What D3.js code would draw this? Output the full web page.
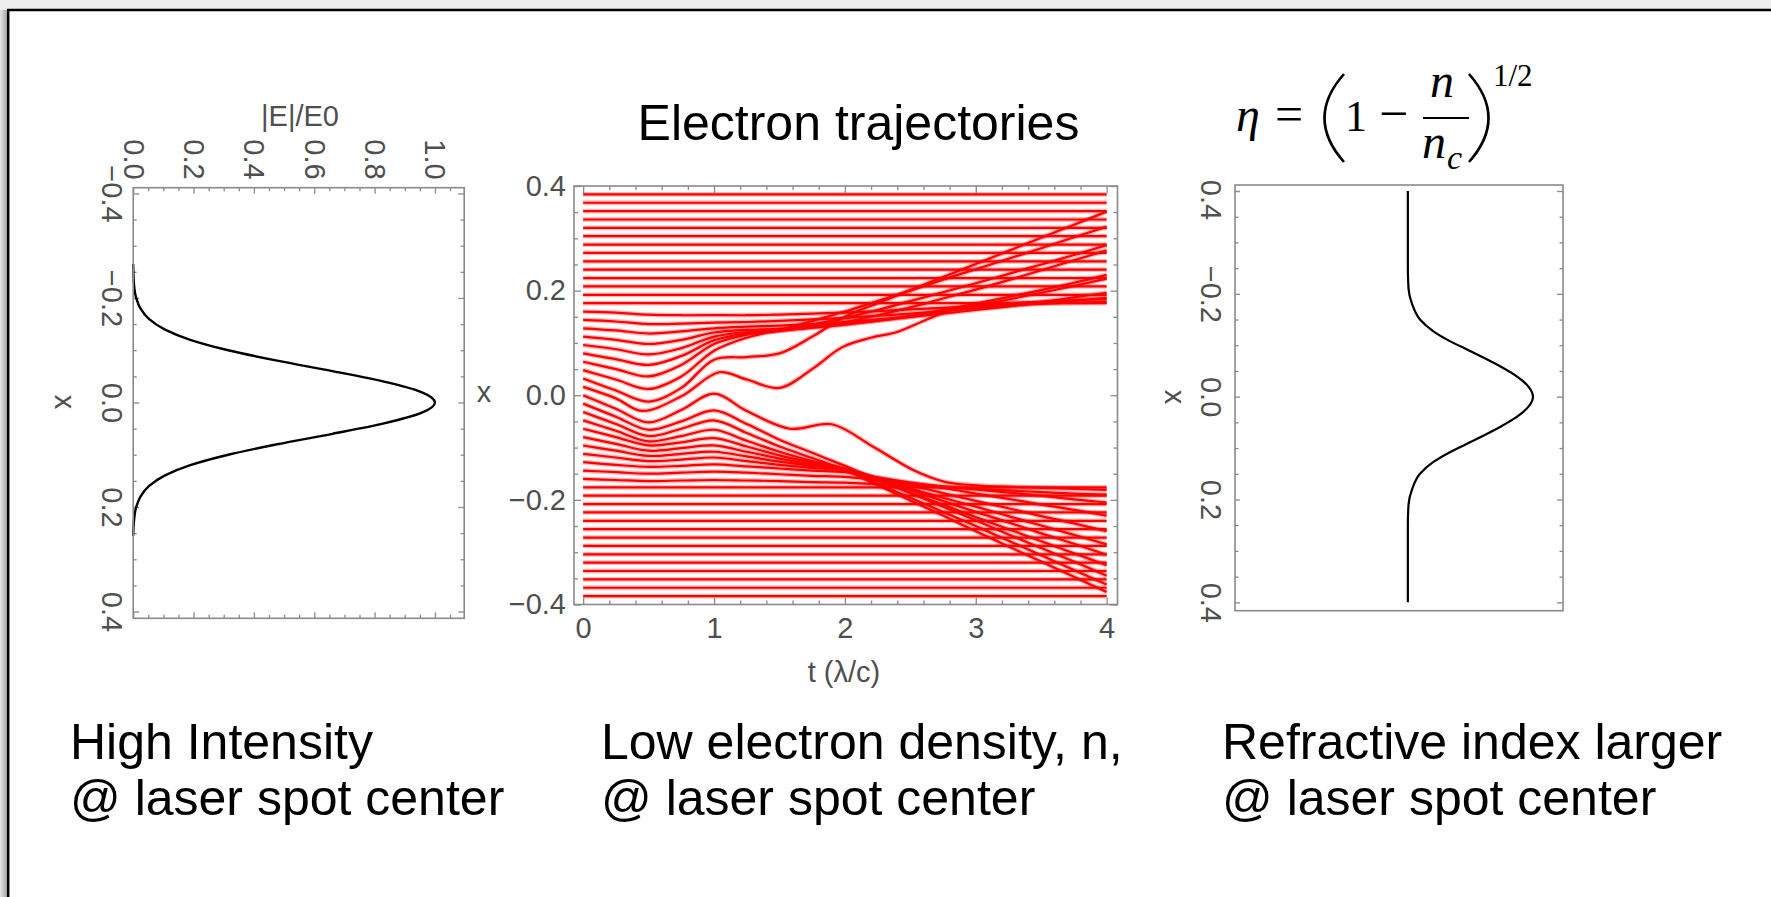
<!DOCTYPE html>
<html>
<head>
<meta charset="utf-8">
<script src="https://d3js.org/d3.v7.min.js"></script>
<style>
  html, body { margin: 0; padding: 0; background: #eeeeee; }
  svg text { font-family: "Liberation Sans", Arial, sans-serif; }
  .tick text, .lab { fill: #4f4f4f; font-size: 29px; }
  .tick line { stroke: #8a8a8a; stroke-width: 1.3; }
  .frame { fill: none; stroke: #8a8a8a; stroke-width: 1.6; }
  .note { fill: #000; font-size: 50px; }
  .math text { fill: #000; font-family: "Liberation Serif", "DejaVu Serif", serif; }
</style>
</head>
<body>
<script>
  // ---- values ----
  var eTicks = [0, 0.2, 0.4, 0.6, 0.8, 1.0];
  var posTicks = [-0.4, -0.2, 0, 0.2, 0.4];
  var timeTicks = [0, 1, 2, 3, 4];

  // left panel: |E|/E0 against x
  var fieldX = [-0.265, -0.23, -0.20, -0.18, -0.16, -0.14, -0.12, -0.10, -0.08, -0.06, -0.04, -0.02, 0,
                0.02, 0.04, 0.06, 0.08, 0.10, 0.12, 0.14, 0.16, 0.18, 0.20, 0.23, 0.255];
  var fieldE = [0.000, 0.002, 0.010, 0.024, 0.052, 0.104, 0.189, 0.315, 0.477, 0.660, 0.831, 0.955, 1.000,
                0.955, 0.831, 0.660, 0.477, 0.315, 0.189, 0.104, 0.052, 0.024, 0.010, 0.002, 0.000];

  // right panel: refractive index profile (no scale shown, 0..1 across the frame)
  var indexX = [-0.40, -0.30, -0.25, -0.21, -0.18, -0.15, -0.127, -0.108, -0.092, -0.076, -0.059, -0.040, -0.020, 0,
                0.020, 0.040, 0.059, 0.076, 0.092, 0.108, 0.127, 0.15, 0.18, 0.21, 0.25, 0.30, 0.40];
  var indexEta = [0.527, 0.527, 0.527, 0.529, 0.540, 0.564, 0.605, 0.655, 0.706, 0.757, 0.808, 0.858, 0.894, 0.9085,
                  0.894, 0.858, 0.808, 0.757, 0.706, 0.655, 0.605, 0.564, 0.540, 0.529, 0.527, 0.527, 0.527];

  // middle panel: electron trajectories
  var flatStarts = [0.384, 0.368, 0.352, 0.336, 0.32, 0.304, 0.288, 0.272, 0.256, 0.24, 0.224, 0.208, 0.192, 0.176,
                    -0.176, -0.192, -0.208, -0.224, -0.24, -0.256, -0.272, -0.288, -0.304, -0.32, -0.336, -0.352, -0.368, -0.384];

  // electron starting on axis: ends in the lower group, small bump near t = 1.9
  var centerTimes = [0, 0.25, 0.5, 0.75, 1.0, 1.25, 1.58, 1.9, 2.22, 2.53, 2.77, 3.0, 3.5, 4.0];
  var centerTrack = [0.000, -0.026, -0.052, -0.028, 0.003, -0.030, -0.064, -0.0555, -0.099, -0.144, -0.166, -0.172, -0.177, -0.181];

  // electron starting at 0.016: slow drift upwards, dip near t = 1.5
  var slowTimes = [0, 0.25, 0.45, 0.75, 1.04, 1.25, 1.5, 1.75, 1.98, 2.2, 2.4, 2.61, 2.82, 3.1, 3.5, 4.0];
  var slowTrack = [0.016, -0.006, -0.030, -0.002, 0.044, 0.030, 0.014, 0.050, 0.092, 0.110, 0.121, 0.143, 0.163, 0.174, 0.179, 0.184];

  // remaining electrons on a common time grid
  var trackTimes = [0, 0.25, 0.5, 0.75, 1, 1.25, 1.5, 1.75, 2, 2.25, 2.5, 2.75, 3, 3.25, 3.5, 3.75, 4];
  var movingTracks = [
    [0.032, 0.009, -0.012, 0.014, 0.068, 0.073, 0.080, 0.112, 0.150, 0.176, 0.201, 0.226, 0.251, 0.276, 0.301, 0.326, 0.351],
    [0.048, 0.030, 0.012, 0.036, 0.085, 0.110, 0.125, 0.142, 0.160, 0.180, 0.200, 0.221, 0.241, 0.261, 0.281, 0.302, 0.322],
    [0.064, 0.050, 0.036, 0.058, 0.098, 0.116, 0.124, 0.135, 0.148, 0.163, 0.180, 0.197, 0.214, 0.232, 0.250, 0.268, 0.287],
    [0.080, 0.069, 0.058, 0.075, 0.105, 0.118, 0.123, 0.130, 0.140, 0.153, 0.168, 0.185, 0.202, 0.220, 0.239, 0.258, 0.277],
    [0.096, 0.088, 0.078, 0.090, 0.112, 0.121, 0.124, 0.129, 0.135, 0.143, 0.152, 0.163, 0.175, 0.188, 0.201, 0.215, 0.230],
    [0.112, 0.106, 0.098, 0.106, 0.120, 0.125, 0.127, 0.131, 0.136, 0.142, 0.150, 0.160, 0.171, 0.183, 0.196, 0.209, 0.223],
    [0.128, 0.124, 0.118, 0.122, 0.128, 0.131, 0.133, 0.136, 0.140, 0.145, 0.150, 0.156, 0.163, 0.170, 0.178, 0.187, 0.196],
    [0.144, 0.141, 0.136, 0.137, 0.139, 0.140, 0.142, 0.145, 0.148, 0.152, 0.156, 0.161, 0.166, 0.171, 0.176, 0.181, 0.186],
    [0.160, 0.158, 0.154, 0.153, 0.153, 0.153, 0.154, 0.156, 0.158, 0.161, 0.164, 0.167, 0.170, 0.173, 0.175, 0.177, 0.179],
    [-0.016, -0.041, -0.066, -0.050, -0.029, -0.055, -0.085, -0.110, -0.135, -0.161, -0.187, -0.213, -0.239, -0.266, -0.292, -0.318, -0.345],
    [-0.032, -0.055, -0.078, -0.064, -0.048, -0.072, -0.098, -0.120, -0.143, -0.172, -0.201, -0.230, -0.260, -0.289, -0.318, -0.347, -0.376],
    [-0.048, -0.068, -0.088, -0.078, -0.066, -0.087, -0.108, -0.126, -0.142, -0.169, -0.196, -0.223, -0.250, -0.278, -0.306, -0.334, -0.362],
    [-0.064, -0.080, -0.096, -0.090, -0.082, -0.098, -0.115, -0.129, -0.141, -0.163, -0.186, -0.209, -0.233, -0.256, -0.279, -0.302, -0.325],
    [-0.080, -0.093, -0.106, -0.101, -0.096, -0.108, -0.121, -0.132, -0.141, -0.161, -0.181, -0.202, -0.223, -0.243, -0.264, -0.284, -0.305],
    [-0.096, -0.106, -0.116, -0.112, -0.108, -0.117, -0.127, -0.135, -0.142, -0.160, -0.178, -0.196, -0.213, -0.231, -0.249, -0.267, -0.285],
    [-0.112, -0.119, -0.126, -0.123, -0.119, -0.126, -0.133, -0.139, -0.144, -0.158, -0.172, -0.187, -0.202, -0.216, -0.231, -0.245, -0.260],
    [-0.128, -0.133, -0.137, -0.135, -0.132, -0.136, -0.140, -0.144, -0.147, -0.157, -0.167, -0.177, -0.188, -0.198, -0.209, -0.219, -0.230],
    [-0.144, -0.147, -0.150, -0.148, -0.146, -0.148, -0.151, -0.154, -0.156, -0.162, -0.168, -0.174, -0.180, -0.186, -0.192, -0.199, -0.205],
    [-0.160, -0.162, -0.164, -0.163, -0.162, -0.163, -0.164, -0.166, -0.167, -0.170, -0.173, -0.176, -0.179, -0.182, -0.185, -0.188, -0.190]
  ];

  var captions = [
    ["High Intensity", "@ laser spot center"],
    ["Low electron density, n,", "@ laser spot center"],
    ["Refractive index larger", "@ laser spot center"]
  ];

  // ---- page ----
  var svg = d3.select("body").append("svg")
    .attr("width", 1771).attr("height", 897)
    .style("display", "block");

  var defs = svg.append("defs");
  var grad = defs.append("linearGradient").attr("id", "shade")
    .attr("x1", 0).attr("x2", 1).attr("y1", 0).attr("y2", 0);
  grad.append("stop").attr("offset", "0%").attr("stop-color", "#e4e4e4");
  grad.append("stop").attr("offset", "100%").attr("stop-color", "#9c9c9c");

  svg.append("rect").attr("width", 1771).attr("height", 897).attr("fill", "#eeeeee");
  svg.append("rect").attr("x", 0).attr("y", 10).attr("width", 8).attr("height", 887).attr("fill", "url(#shade)");
  svg.append("rect").attr("x", 8.2).attr("y", 10).attr("width", 1800).attr("height", 1000)
    .attr("fill", "#fff").attr("stroke", "#000").attr("stroke-width", 2.5);

  // inward ticks without labels
  function plainTicks(g, axis, values, size) {
    g.call(axis.tickValues(values).tickSize(-size).tickFormat(""))
      .call(function(s) { s.select(".domain").remove(); })
      .call(function(s) { s.selectAll("text").remove(); });
  }

  function minor(lo, hi, step, majors) {
    return d3.range(lo, hi + 1e-9, step).filter(function(v) {
      return !majors.some(function(m) { return Math.abs(m - v) < 1e-6; });
    });
  }

  // ================= left panel =================
  var lx = d3.scaleLinear().domain([0, 1.097]).range([133.2, 464.2]);
  var ly = d3.scaleLinear().domain([-0.411, 0.413]).range([187.7, 618.3]);
  var left = svg.append("g");

  var eMinor = minor(0, 1.05, 0.05, eTicks);
  var pMinor = minor(-0.4, 0.4, 0.05, posTicks);

  left.append("g").attr("transform", "translate(0,187.7)")
    .call(d3.axisTop(lx).tickValues(eTicks).tickSize(-6).tickFormat(d3.format(".1f")))
    .call(function(s) { s.select(".domain").remove(); })
    .call(function(s) {
      s.selectAll("text").attr("x", 0).attr("y", 0).attr("dy", "0.35em")
        .attr("text-anchor", "end").attr("transform", "translate(0,-8) rotate(90)");
    });
  plainTicks(left.append("g").attr("transform", "translate(0,187.7)"), d3.axisTop(lx), eMinor, 3.5);
  plainTicks(left.append("g").attr("transform", "translate(0,618.3)"), d3.axisBottom(lx), eTicks, 6);
  plainTicks(left.append("g").attr("transform", "translate(0,618.3)"), d3.axisBottom(lx), eMinor, 3.5);

  left.append("g").attr("transform", "translate(133.2,0)")
    .call(d3.axisLeft(ly).tickValues(posTicks).tickSize(-6).tickFormat(d3.format(".1f")))
    .call(function(s) { s.select(".domain").remove(); })
    .call(function(s) {
      s.selectAll("text").attr("x", 0).attr("y", 0).attr("dy", "0.35em")
        .attr("text-anchor", "middle").attr("transform", "translate(-21.5,0) rotate(90)");
    });
  plainTicks(left.append("g").attr("transform", "translate(133.2,0)"), d3.axisLeft(ly), pMinor, 3.5);
  plainTicks(left.append("g").attr("transform", "translate(464.2,0)"), d3.axisRight(ly), posTicks, 6);
  plainTicks(left.append("g").attr("transform", "translate(464.2,0)"), d3.axisRight(ly), pMinor, 3.5);

  var fieldLine = d3.line()
    .x(function(d, i) { return lx(fieldE[i]); })
    .y(function(d) { return ly(d); })
    .curve(d3.curveMonotoneY);
  left.append("path").attr("d", fieldLine(fieldX))
    .attr("fill", "none").attr("stroke", "#000").attr("stroke-width", 2.4);

  left.append("rect").attr("class", "frame")
    .attr("x", 133.2).attr("y", 187.7).attr("width", 331).attr("height", 430.6);

  left.append("text").attr("class", "lab").attr("x", 300).attr("y", 126)
    .attr("text-anchor", "middle").text("|E|/E0");
  left.append("text").attr("class", "lab").attr("x", 0).attr("y", 0).attr("dy", "0.3em")
    .attr("text-anchor", "middle").attr("transform", "translate(64,402) rotate(90)").text("x");

  // ================= middle panel =================
  var mx = d3.scaleLinear().domain([-0.07, 4.083]).range([574, 1117.5]);
  var my = d3.scaleLinear().domain([-0.4, 0.4]).range([604.5, 186]);
  var mid = svg.append("g");

  defs.append("clipPath").attr("id", "midclip").append("rect")
    .attr("x", 574).attr("y", 186).attr("width", 543.5).attr("height", 418.5);

  var tMinor = minor(0, 4, 0.2, timeTicks);
  var yMinor = minor(-0.4, 0.4, 0.05, posTicks);

  var tracks = mid.append("g").attr("clip-path", "url(#midclip)");
  var trackLine = d3.line()
    .x(function(d) { return mx(d[0]); })
    .y(function(d) { return my(d[1]); })
    .curve(d3.curveCatmullRom.alpha(0.5));

  function pairUp(times, vals) {
    return vals.map(function(v, i) { return [times[i], v]; });
  }

  var allTracks = flatStarts.map(function(v) { return [[0, v], [4, v]]; })
    .concat(movingTracks.map(function(vals) { return pairUp(trackTimes, vals); }))
    .concat([pairUp(centerTimes, centerTrack), pairUp(slowTimes, slowTrack)]);

  tracks.selectAll("path.halo").data(allTracks).enter().append("path")
    .attr("class", "halo").attr("d", trackLine)
    .attr("fill", "none").attr("stroke", "rgba(255,0,0,0.28)").attr("stroke-width", 4.8);
  tracks.selectAll("path.core").data(allTracks).enter().append("path")
    .attr("class", "core").attr("d", trackLine)
    .attr("fill", "none").attr("stroke", "#ff0000").attr("stroke-width", 2.2);

  mid.append("g").attr("transform", "translate(574,0)")
    .call(d3.axisLeft(my).tickValues(posTicks).tickSize(-7).tickPadding(8).tickFormat(d3.format(".1f")))
    .call(function(s) { s.select(".domain").remove(); });
  plainTicks(mid.append("g").attr("transform", "translate(574,0)"), d3.axisLeft(my), yMinor, 4);
  plainTicks(mid.append("g").attr("transform", "translate(1117.5,0)"), d3.axisRight(my), posTicks, 7);
  plainTicks(mid.append("g").attr("transform", "translate(1117.5,0)"), d3.axisRight(my), yMinor, 4);

  mid.append("g").attr("transform", "translate(0,604.5)")
    .call(d3.axisBottom(mx).tickValues(timeTicks).tickSize(-7).tickPadding(13).tickFormat(d3.format("d")))
    .call(function(s) { s.select(".domain").remove(); });
  plainTicks(mid.append("g").attr("transform", "translate(0,604.5)"), d3.axisBottom(mx), tMinor, 4);
  plainTicks(mid.append("g").attr("transform", "translate(0,186)"), d3.axisTop(mx), timeTicks, 7);
  plainTicks(mid.append("g").attr("transform", "translate(0,186)"), d3.axisTop(mx), tMinor, 4);

  mid.append("rect").attr("class", "frame")
    .attr("x", 574).attr("y", 186).attr("width", 543.5).attr("height", 418.5);

  mid.append("text").attr("class", "lab").attr("x", 844).attr("y", 682)
    .attr("text-anchor", "middle").text("t (\u03bb/c)");
  mid.append("text").attr("class", "lab").attr("x", 484).attr("y", 402)
    .attr("text-anchor", "middle").text("x");
  mid.append("text").attr("class", "note").attr("x", 858.5).attr("y", 140)
    .attr("text-anchor", "middle").text("Electron trajectories");

  // ================= right panel =================
  var rx = d3.scaleLinear().domain([0, 1]).range([1235, 1563]);
  var ry = d3.scaleLinear().domain([-0.4, 0.4]).range([191, 602.3]);
  var right = svg.append("g");

  // the picture was cropped just above the plot, cutting the minus of the top label
  defs.append("clipPath").attr("id", "rlabclip").append("rect")
    .attr("x", 1150).attr("y", 179.8).attr("width", 90).attr("height", 460);

  right.append("g").attr("clip-path", "url(#rlabclip)")
    .append("g").attr("transform", "translate(1235,0)")
    .call(d3.axisLeft(ry).tickValues(posTicks).tickSize(-6).tickFormat(d3.format(".1f")))
    .call(function(s) { s.select(".domain").remove(); })
    .call(function(s) {
      s.selectAll("text").attr("x", 0).attr("y", 0).attr("dy", "0.35em")
        .attr("text-anchor", "middle").attr("transform", "translate(-24,0) rotate(90)");
    });
  plainTicks(right.append("g").attr("transform", "translate(1235,0)"), d3.axisLeft(ry), pMinor, 3.5);
  plainTicks(right.append("g").attr("transform", "translate(1563,0)"), d3.axisRight(ry), posTicks, 6);
  plainTicks(right.append("g").attr("transform", "translate(1563,0)"), d3.axisRight(ry), pMinor, 3.5);

  var indexLine = d3.line()
    .x(function(d, i) { return rx(indexEta[i]); })
    .y(function(d) { return ry(d); })
    .curve(d3.curveMonotoneY);
  right.append("path").attr("d", indexLine(indexX))
    .attr("fill", "none").attr("stroke", "#000").attr("stroke-width", 2.2);

  right.append("rect").attr("class", "frame")
    .attr("x", 1235).attr("y", 185).attr("width", 328).attr("height", 425.7);

  right.append("text").attr("class", "lab").attr("x", 0).attr("y", 0).attr("dy", "0.3em")
    .attr("text-anchor", "middle").attr("transform", "translate(1174,397) rotate(90)").text("x");

  // formula  eta = (1 - n/n_c)^(1/2)
  var f = svg.append("g").attr("class", "math");
  f.append("text").attr("x", 1236).attr("y", 131).attr("font-size", 48).attr("font-style", "italic").text("\u03b7");
  f.append("text").attr("x", 1275).attr("y", 131).attr("font-size", 50).text("=");
  f.append("text").attr("x", 1345).attr("y", 131).attr("font-size", 44).text("1");
  f.append("text").attr("x", 1379).attr("y", 131).attr("font-size", 52).text("\u2212");
  f.append("text").attr("x", 1442).attr("y", 97).attr("font-size", 48).attr("font-style", "italic")
    .attr("text-anchor", "middle").text("n");
  f.append("line").attr("x1", 1423).attr("x2", 1469).attr("y1", 118).attr("y2", 118)
    .attr("stroke", "#000").attr("stroke-width", 2.2);
  f.append("text").attr("x", 1422).attr("y", 158).attr("font-size", 48).attr("font-style", "italic").text("n");
  f.append("text").attr("x", 1447).attr("y", 169).attr("font-size", 34).attr("font-style", "italic").text("c");
  f.append("text").attr("x", 1493).attr("y", 86).attr("font-size", 31).text("1/2");
  f.append("path").attr("d", "M1344,74 Q1305,118 1344,162").attr("fill", "none").attr("stroke", "#000").attr("stroke-width", 2.6);
  f.append("path").attr("d", "M1469,74 Q1508,118 1469,162").attr("fill", "none").attr("stroke", "#000").attr("stroke-width", 2.6);

  // ================= captions =================
  var capX = [70, 601, 1222];
  captions.forEach(function(lines, i) {
    lines.forEach(function(t, j) {
      svg.append("text").attr("class", "note")
        .attr("x", capX[i]).attr("y", 759 + j * 56).text(t);
    });
  });
</script>
</body>
</html>
